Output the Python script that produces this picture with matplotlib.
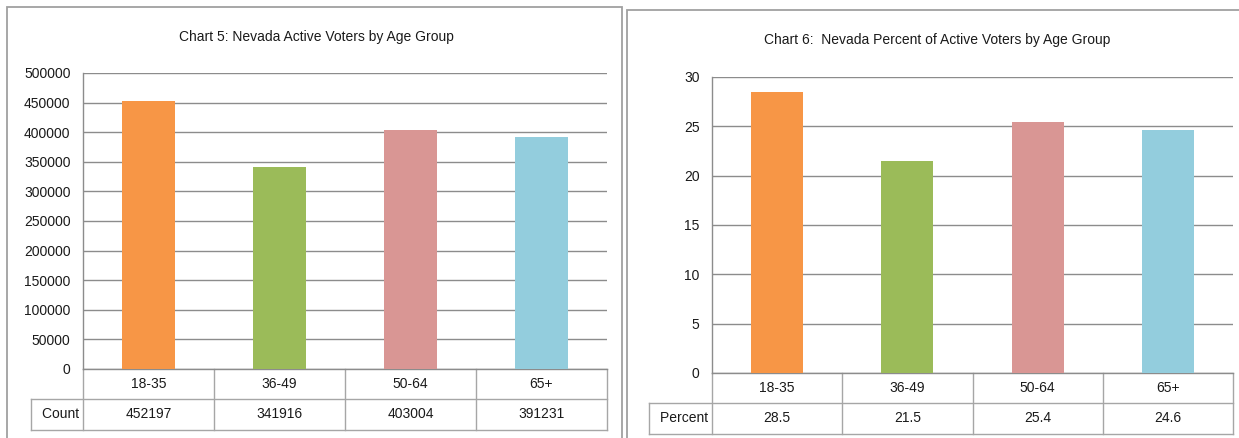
import matplotlib
matplotlib.use("Agg")
import matplotlib.pyplot as plt
from matplotlib.lines import Line2D
from matplotlib.patches import Rectangle

plt.rcParams['font.family'] = ['Liberation Sans', 'DejaVu Sans']

# data
age_groups = ['18-35', '36-49', '50-64', '65+']
counts = [452197, 341916, 403004, 391231]
percents = [28.5, 21.5, 25.4, 24.6]
bar_colors = ['#F79646', '#9BBB59', '#D99694', '#93CDDD']

W, H = 1239, 438
GRID = '#8C8C8C'
TABLE = '#A6A6A6'
FRAME = '#A0A0A0'
TXT = '#1A1A1A'
FS = 10

fig = plt.figure(figsize=(W / 100, H / 100), dpi=100)


def fx(x):
    return x / W


def fy(y):
    return 1 - y / H


def add_frame(x0, y0, x1, y1):
    fig.add_artist(Rectangle((fx(x0), fy(y1)), fx(x1) - fx(x0), fy(y0) - fy(y1),
                             transform=fig.transFigure, fill=False,
                             edgecolor=FRAME, lw=1.3))


def chart(left, top, right, bottom, values, ymax, ystep, title, title_xy,
          row_label, row_texts, label_left, row1_h, row2_h):
    ax = fig.add_axes([fx(left), fy(bottom), fx(right) - fx(left), fy(top) - fy(bottom)])
    x = range(len(values))
    ax.bar(x, values, width=0.4, color=bar_colors, zorder=3)
    ax.set_xlim(-0.5, len(values) - 0.5)
    ax.set_ylim(0, ymax)
    ax.set_yticks(range(0, ymax + 1, ystep))
    ax.set_yticklabels([str(v) for v in range(0, ymax + 1, ystep)])
    ax.grid(axis='y', color=GRID, lw=1, zorder=0)
    ax.tick_params(axis='y', length=0, pad=9, labelsize=FS, labelcolor=TXT)
    ax.set_xticks([])
    for s in ['top', 'right']:
        ax.spines[s].set_visible(False)
    for s in ['left', 'bottom']:
        ax.spines[s].set_color(GRID)
        ax.spines[s].set_linewidth(1)

    # data table under the axes, pixel based
    ax_h = bottom - top
    tr = ax.get_xaxis_transform()
    r1 = -row1_h / ax_h
    r2 = -(row1_h + row2_h) / ax_h
    n = len(values)
    for b in [i - 0.5 for i in range(n + 1)]:
        ax.add_line(Line2D([b, b], [0, r2], transform=tr, color=TABLE, lw=1, clip_on=False))
    # horizontal lines, extended to the label cell
    lab_x = ax.transData.inverted().transform(
        ax.transAxes.transform((0, 0)) + [label_left - left, 0])[0]
    for yy in [r1, r2]:
        ax.add_line(Line2D([lab_x, n - 0.5], [yy, yy], transform=tr, color=TABLE,
                           lw=1, clip_on=False))
    ax.add_line(Line2D([lab_x, lab_x], [r1, r2], transform=tr, color=TABLE, lw=1,
                       clip_on=False))
    for i, (g, t) in enumerate(zip(age_groups, row_texts)):
        ax.text(i, r1 / 2, g, transform=tr, ha='center', va='center', fontsize=FS, color=TXT)
        ax.text(i, (r1 + r2) / 2, t, transform=tr, ha='center', va='center',
                fontsize=FS, color=TXT)
    ax.text(-0.5, (r1 + r2) / 2, row_label + ' ', transform=tr, ha='right', va='center',
            fontsize=FS, color=TXT)

    fig.text(fx(title_xy[0]), fy(title_xy[1]), title, ha='center', va='center',
             fontsize=FS, color=TXT)
    return ax


add_frame(7, 7, 622, 445)
add_frame(627, 10, 1250, 445)

chart(83, 73, 607, 369, counts, 500000, 50000,
      'Chart 5: Nevada Active Voters by Age Group', (316, 37),
      'Count', [str(c) for c in counts], 31, 30, 31)

chart(712, 77, 1233, 373, percents, 30, 5,
      'Chart 6:  Nevada Percent of Active Voters by Age Group', (937, 40),
      'Percent', [f'{p:.1f}' for p in percents], 649, 30, 31)

fig.savefig('out.png', dpi=100, facecolor='white')
